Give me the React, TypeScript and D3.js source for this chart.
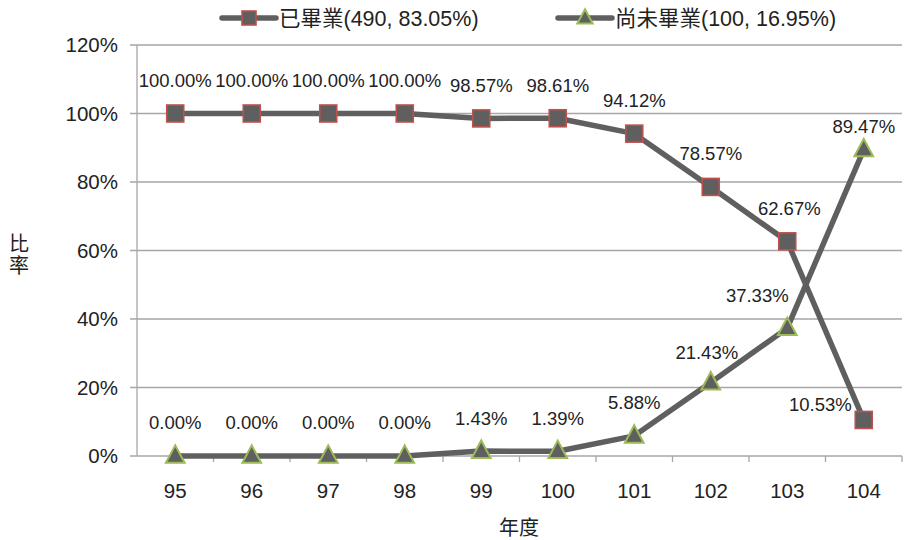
import { useEffect, useRef } from 'react';
import * as d3 from 'd3';

const years = ['95', '96', '97', '98', '99', '100', '101', '102', '103', '104'];
const graduated = [100, 100, 100, 100, 98.57, 98.61, 94.12, 78.57, 62.67, 10.53];
const notGraduated = [0, 0, 0, 0, 1.43, 1.39, 5.88, 21.43, 37.33, 89.47];
const yTicks = [0, 20, 40, 60, 80, 100, 120];
const seriesNames = ['已畢業(490, 83.05%)', '尚未畢業(100, 16.95%)'];

const W = 904;
const H = 540;
const FONT = "'Liberation Sans', Arial, 'Noto Sans CJK TC', sans-serif";
const LINE = '#5f5f5f';
const GRID = '#a6a6a6';

export default function App() {
  const svgRef = useRef<SVGSVGElement>(null);

  useEffect(() => {
    if (!svgRef.current) return;
    const svg = d3.select(svgRef.current);
    svg.selectAll('*').remove();

    const margin = { top: 45, right: 2, bottom: 84, left: 137 };
    const x = d3
      .scaleBand()
      .domain(years)
      .range([margin.left, W - margin.right]);
    const y = d3
      .scaleLinear()
      .domain([0, 120])
      .range([H - margin.bottom, margin.top]);
    const cx = (d: string) => x(d)! + x.bandwidth() / 2;

    const g = svg.append('g').attr('font-family', FONT).attr('fill', '#222');

    // gridlines
    g.selectAll('.grid')
      .data(yTicks.filter((t) => t > 0))
      .enter()
      .append('line')
      .attr('x1', margin.left - 7)
      .attr('x2', W - margin.right)
      .attr('y1', (d) => y(d))
      .attr('y2', (d) => y(d))
      .attr('stroke', GRID)
      .attr('stroke-width', 1.3);

    g.append('line')
      .attr('x1', margin.left)
      .attr('x2', margin.left)
      .attr('y1', y(120))
      .attr('y2', y(0))
      .attr('stroke', GRID)
      .attr('stroke-width', 1.3);

    g.append('line')
      .attr('x1', margin.left - 7)
      .attr('x2', W - margin.right)
      .attr('y1', y(0))
      .attr('y2', y(0))
      .attr('stroke', GRID)
      .attr('stroke-width', 1.3);

    // x ticks between categories
    const bounds = years.map((d) => x(d)!).concat([x(years[years.length - 1])! + x.bandwidth()]);
    g.selectAll('.xtick')
      .data(bounds.slice(1))
      .enter()
      .append('line')
      .attr('x1', (d) => d)
      .attr('x2', (d) => d)
      .attr('y1', y(0))
      .attr('y2', y(0) + 6)
      .attr('stroke', GRID)
      .attr('stroke-width', 1.3);

    g.selectAll('.ylabel')
      .data(yTicks)
      .enter()
      .append('text')
      .attr('x', margin.left - 19)
      .attr('y', (d) => y(d))
      .attr('dy', '0.35em')
      .attr('text-anchor', 'end')
      .attr('font-size', 20.5)
      .text((d) => `${d}%`);

    g.selectAll('.xlabel')
      .data(years)
      .enter()
      .append('text')
      .attr('x', (d) => cx(d))
      .attr('y', y(0) + 35)
      .attr('dy', '0.35em')
      .attr('text-anchor', 'middle')
      .attr('font-size', 20.5)
      .text((d) => d);

    g.append('text')
      .attr('x', 519)
      .attr('y', 528)
      .attr('dy', '0.35em')
      .attr('text-anchor', 'middle')
      .attr('font-size', 20)
      .text('年度');

    g.selectAll('.ytitle')
      .data(['比', '率'])
      .enter()
      .append('text')
      .attr('x', 19)
      .attr('y', (_, i) => 244 + i * 22)
      .attr('dy', '0.35em')
      .attr('text-anchor', 'middle')
      .attr('font-size', 20)
      .text((d) => d);

    const line = d3
      .line<number>()
      .x((_, i) => cx(years[i]))
      .y((d) => y(d));

    const series = [
      { name: seriesNames[0], values: graduated, shape: 'square', stroke: '#c0504d' },
      { name: seriesNames[1], values: notGraduated, shape: 'triangle', stroke: '#9bbb59' },
    ];

    const drawMarker = (
      sel: any,
      shape: string,
      stroke: string,
      px: number,
      py: number,
      size: number
    ) => {
      const h = size / 2;
      if (shape === 'square') {
        sel
          .append('rect')
          .attr('x', px - h)
          .attr('y', py - h)
          .attr('width', size)
          .attr('height', size)
          .attr('fill', LINE)
          .attr('stroke', stroke)
          .attr('stroke-width', 1.6);
      } else {
        sel
          .append('path')
          .attr('d', `M${px},${py - h * 1.25}L${px + h * 1.1},${py + h * 0.8}L${px - h * 1.1},${py + h * 0.8}Z`)
          .attr('fill', LINE)
          .attr('stroke', stroke)
          .attr('stroke-width', 2);
      }
    };

    series.forEach((s) => {
      g.append('path')
        .datum(s.values)
        .attr('d', line)
        .attr('fill', 'none')
        .attr('stroke', LINE)
        .attr('stroke-width', 5.5)
        .attr('stroke-linejoin', 'round');
    });

    series.forEach((s, si) => {
      s.values.forEach((v, i) => {
        drawMarker(g, s.shape, s.stroke, cx(years[i]), y(v), 17);
      });
      s.values.forEach((v, i) => {
        let dx = 0;
        let dy = -33;
        let anchor = 'middle';
        if (si === 0 && i === 9) {
          dx = -12;
          dy = -15;
          anchor = 'end';
        }
        if (si === 0 && i === 8) dx = 2;
        if (si === 1 && i === 8) dx = -30;
        if (si === 1 && i === 9) dy = -23;
        if (si === 1 && i === 7) {
          dx = -4;
          dy = -30;
        }
        g.append('text')
          .attr('x', cx(years[i]) + dx)
          .attr('y', y(v) + dy)
          .attr('dy', '0.35em')
          .attr('text-anchor', anchor)
          .attr('font-size', 18.5)
          .text(`${v.toFixed(2)}%`);
      });
    });

    // legend
    const legendX = [222, 558];
    series.forEach((s, i) => {
      const lx = legendX[i];
      const ly = 18;
      g.append('line')
        .attr('x1', lx)
        .attr('x2', lx + 54)
        .attr('y1', ly)
        .attr('y2', ly)
        .attr('stroke', LINE)
        .attr('stroke-width', 5.5)
        .attr('stroke-linecap', 'round');
      drawMarker(g, s.shape, s.stroke, lx + 27, ly, 14);
      g.append('text')
        .attr('x', lx + 57)
        .attr('y', ly)
        .attr('dy', '0.35em')
        .attr('font-size', 21.5)
        .text(s.name);
    });
  }, []);

  return (
    <svg
      ref={svgRef}
      width={W}
      height={H}
      style={{ position: 'absolute', left: 0, top: 0, background: '#fff' }}
    />
  );
}
